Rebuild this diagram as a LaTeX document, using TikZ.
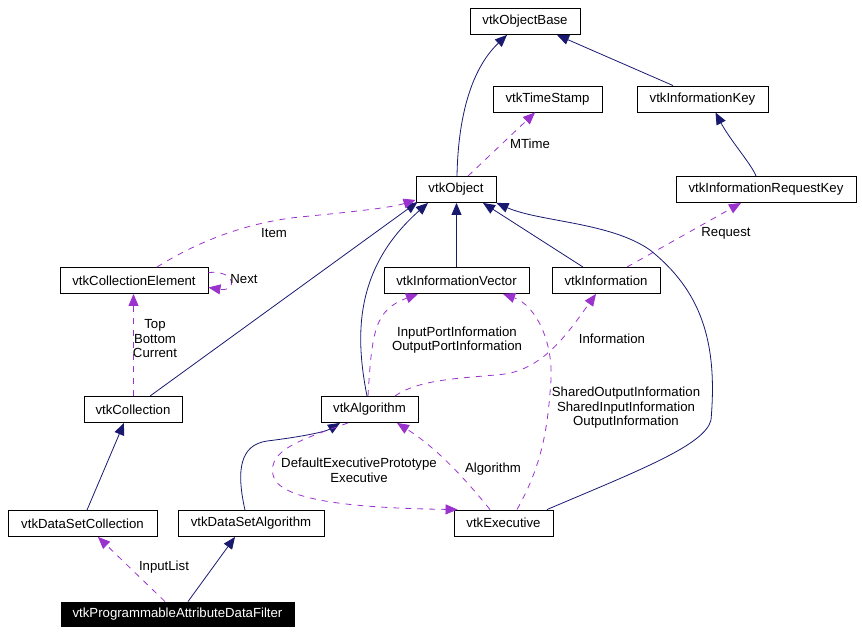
\documentclass[tikz,border=0pt]{standalone}
\usepackage{fontspec}
\setmainfont{Liberation Sans}
\usetikzlibrary{arrows.meta}
\definecolor{inhblue}{HTML}{191970}
\definecolor{usepurple}{HTML}{9A32CD}

\begin{document}
\begin{tikzpicture}[x=1pt,y=-1pt,
    cls/.style={draw, line width=0.9pt, minimum height=26pt, inner sep=0pt,
        font=\fontsize{13.2}{15}\selectfont},
    inh/.style={draw=inhblue, line width=0.8pt, -{Triangle[length=12pt,width=10pt]}},
    use/.style={draw=usepurple, line width=0.8pt, dash pattern=on 6pt off 6pt,
        -{Triangle[length=12pt,width=10pt]}},
    lbl/.style={align=center, inner sep=0pt, font=\fontsize{13.2}{14.5}\selectfont}]
    \useasboundingbox (0,0) rectangle (862,634);

    % classes
    \node[cls, minimum width=110pt] (base) at (525,21.5) {vtkObjectBase};
    \node[cls, minimum width=109pt] (ts) at (547.5,99) {vtkTimeStamp};
    \node[cls, minimum width=131pt] (ikey) at (702.5,99) {vtkInformationKey};
    \node[cls, minimum width=80pt] (obj) at (456,189.5) {vtkObject};
    \node[cls, minimum width=180pt] (irkey) at (766,189.5) {vtkInformationRequestKey};
    \node[cls, minimum width=148pt] (cel) at (134,280.5) {vtkCollectionElement};
    \node[cls, minimum width=145pt] (ivec) at (456.5,280.5) {vtkInformationVector};
    \node[cls, minimum width=108pt] (info) at (606,280.5) {vtkInformation};
    \node[cls, minimum width=98pt] (coll) at (133,409.5) {vtkCollection};
    \node[cls, minimum width=97pt] (alg) at (369.5,409.5) {vtkAlgorithm};
    \node[cls, minimum width=149pt] (dsc) at (82.5,523.5) {vtkDataSetCollection};
    \node[cls, minimum width=146pt] (dsa) at (251,523.5) {vtkDataSetAlgorithm};
    \node[cls, minimum width=99pt] (exe) at (503.5,523) {vtkExecutive};
    \node[cls, minimum width=233pt, minimum height=24pt, fill=black, text=white] (filt)
        at (177.5,614) {vtkProgrammableAttributeDataFilter};

    % inheritance
    \draw[inh] ([xshift=1pt]obj.north) .. controls (458,120) and (470,70) .. ([xshift=-18pt]base.south);
    \draw[inh] ([xshift=-29.5pt]ikey.north) -- ([xshift=32pt]base.south);
    \draw[inh] ([xshift=-10pt]irkey.north) .. controls (752,165) and (730,140) .. ([xshift=13pt]ikey.south);
    \draw[inh] (ivec.north) -- (ivec.north |- obj.south);
    \draw[inh] ([xshift=-23pt]info.north) -- ([xshift=27pt]obj.south);
    \draw[inh] ([xshift=17pt]coll.north) -- ([xshift=2pt,yshift=1pt]obj.south west);
    \draw[inh] ([xshift=-2.5pt]alg.north) .. controls (356,340) and (352,270) .. ([xshift=-28pt]obj.south);
    \draw[inh] ([xshift=4.5pt]dsc.north) -- ([xshift=-9pt]coll.south);
    \draw[inh] ([xshift=-6pt]dsa.north) .. controls (236,470) and (240,445) .. (267,441)
        .. controls (300,437) and (325,432) .. ([xshift=-29.5pt]alg.south);
    \draw[inh] ([xshift=10.5pt]filt.north) -- ([xshift=-16pt]dsa.south);

    % usage
    \draw[use] ([xshift=12pt]obj.north) -- ([xshift=-12.5pt]ts.south);
    \node[lbl] (lmtime) at (530,144) {MTime};
    \draw[use] ([xshift=23pt]cel.north) .. controls (200,240) and (250,222) .. (300,217)
        .. controls (350,212) and (390,208) .. ([yshift=3pt]obj.south west);
    \node[lbl] (litem) at (274,233) {Item};
    \draw[use] ([yshift=8pt]cel.east) .. controls (237,270) and (237,292) .. ([yshift=-7pt]cel.east);
    \node[lbl] (lnext) at (244,279) {Next};
    \draw[use] ([xshift=0.5pt]coll.north) -- ([xshift=0.5pt]coll.north |- cel.south);
    \node[lbl] (ltop) at (155,339) {Top\\Bottom\\Current};
    \draw[use] ([xshift=-12.5pt]filt.north) -- ([xshift=15.5pt]dsc.south);
    \node[lbl] (linput) at (164,567) {InputList};
    \draw[use] ([xshift=-1.5pt]alg.north) .. controls (372,330) and (375,310) .. ([xshift=-38.5pt]ivec.south);
    \node[lbl] (lport) at (457,340) {InputPortInformation\\OutputPortInformation};
    \draw[use] ([xshift=25.5pt]alg.north) .. controls (420,378) and (470,378) .. (505,374)
        .. controls (545,368) and (570,330) .. ([xshift=-10pt]info.south);
    \node[lbl] (linfo) at (612,339) {Information};
    \draw[use] ([xshift=-13.5pt]exe.north) .. controls (470,485) and (440,450) .. ([xshift=27.5pt]alg.south);
    \node[lbl] (lalg) at (493,469) {Algorithm};
    \draw[use] ([xshift=-21.5pt]alg.south) .. controls (300,440) and (268,450) .. (273,475)
        .. controls (278,500) and (350,508) .. ([xshift=4pt]exe.north west);
    \node[lbl] (ldef) at (359,470.5) {DefaultExecutivePrototype\\Executive};
    \draw[use] ([xshift=13.5pt]exe.north) .. controls (545,460) and (548,420) .. (551,380)
        .. controls (553,340) and (535,305) .. ([xshift=46.5pt]ivec.south);
    \node[lbl] (lshared) at (626,408) {SharedOutputInformation\\SharedInputInformation\\OutputInformation};
    \draw[use] ([xshift=21pt]info.north) -- ([xshift=-25pt]irkey.south);
    \node[lbl] (lreq) at (726,233) {Request};

    \draw[inh] ([xshift=43.5pt]exe.north) .. controls (640,470) and (705,445) .. (711,420)
        .. controls (718,340) and (700,290) .. (650,250)
        .. controls (610,222) and (540,222) .. (obj.south east);
\end{tikzpicture}
\end{document}
